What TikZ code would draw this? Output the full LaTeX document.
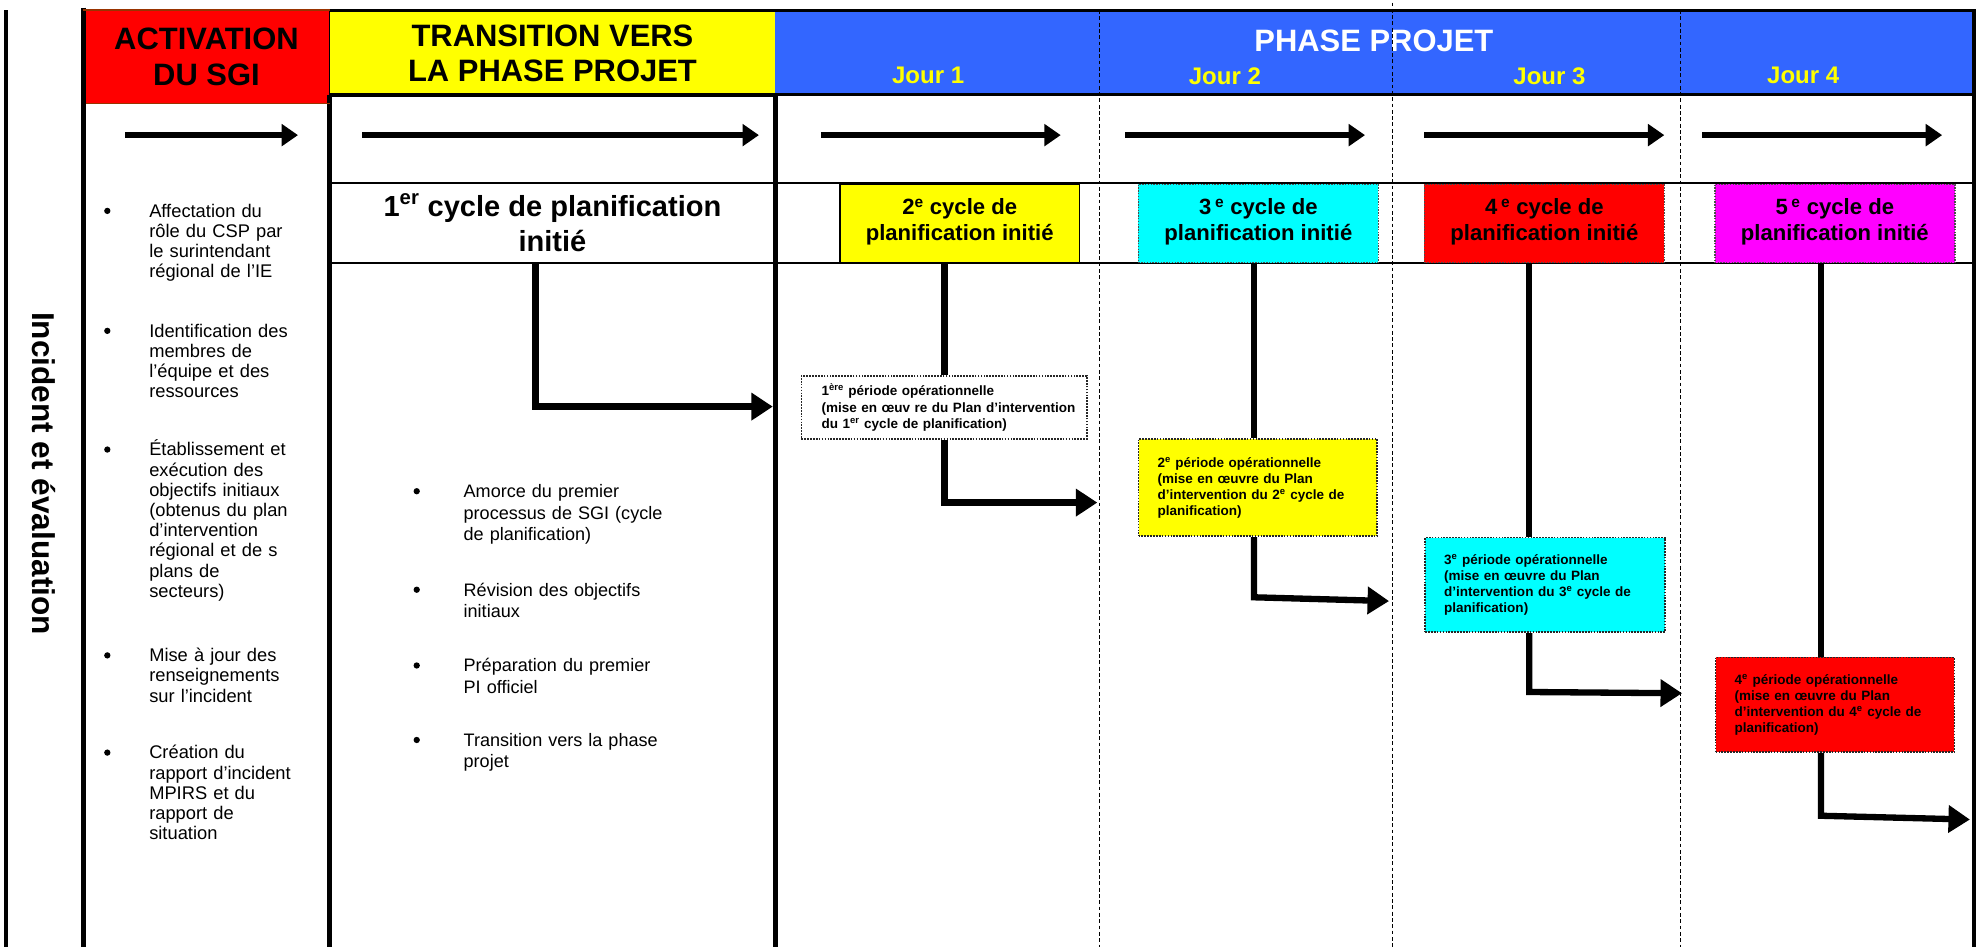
\documentclass[tikz,border=0pt]{standalone}
\usepackage{fontspec}
\setmainfont{Liberation Sans}
\usetikzlibrary{arrows.meta}
\definecolor{phaseblue}{RGB}{51,102,255}
\definecolor{hdrred}{RGB}{255,0,0}
\definecolor{hdryellow}{RGB}{255,255,0}
\definecolor{boxcyan}{RGB}{0,255,255}
\definecolor{boxmagenta}{RGB}{255,0,255}
\definecolor{rustline}{RGB}{153,51,0}
\begin{document}
\begin{tikzpicture}[x=1pt,y=-1pt,
  rulebold/.style={black,line width=4pt},
  rulemid/.style={black,line width=2.5pt},
  daysep/.style={black,line width=0.9pt,dash pattern=on 3pt off 2pt},
  hdrtext/.style={align=center,inner sep=0pt,font=\bfseries\fontsize{24.5}{28}\selectfont},
  daytext/.style={text=hdryellow,inner sep=0pt,font=\bfseries\fontsize{19}{22}\selectfont},
  flow/.style={line width=5pt,-{Triangle[length=13pt,width=17pt]}},
  conn/.style={line width=5pt,line join=miter,-{Triangle[length=17pt,width=21pt]}},
  link/.style={line width=5pt},
  cycbox/.style={minimum width=190pt,minimum height=62pt,inner sep=0pt,align=center,
    font=\bfseries\fontsize{17.5}{20}\selectfont},
  perbox/.style={draw=black!85,densely dotted,line width=1.3pt,anchor=north west,
    inner xsep=15pt,inner ysep=0pt,align=left,font=\bfseries\fontsize{10.7}{12.7}\selectfont},
  lefttext/.style={anchor=base west,align=left,inner sep=0pt,text width=140pt,
    font=\fontsize{14.5}{16}\selectfont},
  midtext/.style={anchor=base west,align=left,inner sep=0pt,text width=200pt,
    font=\fontsize{14.3}{17}\selectfont},
  dot/.style={circle,fill=black,inner sep=0pt,minimum size=5pt},
]
\useasboundingbox (0,0) rectangle (1568,750);
\fill[white] (0,0) rectangle (1568,750);

% ---------- header band ----------
\node[hdrtext,fill=hdrred,minimum width=195pt,minimum height=74pt] (hact) at (163.5,45) {ACTIVATION\\DU SGI};
\node[hdrtext,fill=hdryellow,draw=black,line width=1.2pt,minimum width=353pt,minimum height=67pt] (htrans) at (437.5,42.5) {TRANSITION VERS\\LA PHASE PROJET};
\fill[phaseblue] (614,8) rectangle (1563,75);
\node[hdrtext,text=white] (hphase) at (1088,32) {PHASE PROJET};
\node[daytext] (j1) at (735,60) {Jour 1};
\node[daytext] (j2) at (970,60) {Jour 2};
\node[daytext] (j3) at (1227,60) {Jour 3};
\node[daytext] (j4) at (1428,60) {Jour 4};

% ---------- grid ----------
\draw[daysep] (871,8) -- (871,750);
\draw[daysep] (1103,2) -- (1103,750);
\draw[daysep] (1331,8) -- (1331,750);
\draw[black,line width=3pt] (5,8) -- (5,750);
\draw[rulebold] (66,6) -- (66,750);
\draw[rulebold] (261,75) -- (261,750);
\draw[rulebold] (614,75) -- (614,750);
\draw[black,line width=3pt] (1563,8) -- (1563,750);
\draw[rustline,line width=2pt] (66,8) -- (261,8);
\draw[rulemid] (261,8) -- (1564.5,8);
\draw[rustline,line width=1.5pt] (68,82) -- (261,82);
\draw[rulemid] (261,75) -- (1563,75);
\draw[black,line width=2pt] (261,145) -- (1563,145);
\draw[black,line width=1.5pt] (261,208) -- (1563,208);

% ---------- timeline arrows ----------
\coordinate (a1s) at (99,107);   \coordinate (a1e) at (236,107);
\coordinate (a2s) at (287,107);  \coordinate (a2e) at (601,107);
\coordinate (a3s) at (650,107);  \coordinate (a3e) at (840,107);
\coordinate (a4s) at (891,107);  \coordinate (a4e) at (1081,107);
\coordinate (a5s) at (1128,107); \coordinate (a5e) at (1318,107);
\coordinate (a6s) at (1348,107); \coordinate (a6e) at (1538,107);
\foreach \i in {1,...,6} \draw[flow] (a\i s) -- (a\i e);

% ---------- planning cycles ----------
\node[minimum width=353pt,minimum height=63pt,inner sep=0pt,align=center,
  font=\bfseries\fontsize{23}{28}\selectfont] (c1) at (437.5,176.5)
  {1\textsuperscript{er} cycle de planification\\initié};
\node[cycbox,fill=hdryellow,draw=black,line width=1.3pt] (c2) at (760,177)
  {\raisebox{6pt}{\shortstack{2\textsuperscript{e} cycle de\\[1pt]planification initié}}};
\node[cycbox,fill=boxcyan,draw=black!70,densely dotted,line width=1.2pt] (c3) at (996.5,177)
  {\raisebox{6pt}{\shortstack{3\,\textsuperscript{e} cycle de\\[1pt]planification initié}}};
\node[cycbox,fill=hdrred,draw=black!70,densely dotted,line width=1.2pt] (c4) at (1223,177)
  {\raisebox{6pt}{\shortstack{4\,\textsuperscript{e} cycle de\\[1pt]planification initié}}};
\node[cycbox,fill=boxmagenta,draw=black!70,densely dotted,line width=1.2pt] (c5) at (1453,177)
  {\raisebox{6pt}{\shortstack{5\,\textsuperscript{e} cycle de\\[1pt]planification initié}}};

% ---------- operational periods ----------
\node[perbox,fill=white,inner xsep=8pt,text width=210pt,minimum height=50pt] (p1) at (634,297)
  {\hspace*{8pt}\mbox{1\textsuperscript{ère} période opérationnelle}\\
   \hspace*{8pt}\mbox{(mise en œuv re du Plan d’intervention}\\
   \hspace*{8pt}\mbox{du 1\textsuperscript{er} cycle de planification)}};
\node[perbox,fill=hdryellow,text width=159pt,minimum height=77pt] (p2) at (901,347)
  {2\textsuperscript{e} période opérationnelle\\(mise en œuvre du Plan\\d’intervention du 2\textsuperscript{e} cycle de\\planification)};
\node[perbox,fill=boxcyan,text width=160pt,minimum height=75pt] (p3) at (1128,425)
  {3\textsuperscript{e} période opérationnelle\\(mise en œuvre du Plan\\d’intervention du 3\textsuperscript{e} cycle de\\planification)};
\node[perbox,fill=hdrred,text width=159pt,minimum height=75pt] (p4) at (1358,520)
  {4\textsuperscript{e} période opérationnelle\\(mise en œuvre du Plan\\d’intervention du 4\textsuperscript{e} cycle de\\planification)};

% ---------- connectors ----------
\coordinate (k1) at (424,322);  \coordinate (e1) at (612,322);
\coordinate (k2) at (748,398);  \coordinate (e2) at (869,398);
\coordinate (k3) at (993,473);  \coordinate (e3) at (1100,476);
\coordinate (k4) at (1211,548); \coordinate (e4) at (1332,549);
\coordinate (k5) at (1442,646); \coordinate (e5) at (1560,649);
\draw[conn] (c1.south -| k1) -- (k1) -- (e1);
\draw[link] (c2.south -| k2) -- (p1.north -| k2);
\draw[conn] (p1.south -| k2) -- (k2) -- (e2);
\draw[link] (c3.south -| k3) -- (p2.north -| k3);
\draw[conn] (p2.south -| k3) -- (k3) -- (e3);
\draw[link] (c4.south -| k4) -- (p3.north -| k4);
\draw[conn] (p3.south -| k4) -- (k4) -- (e4);
\draw[link] (c5.south -| k5) -- (p4.north -| k5);
\draw[conn] (p4.south -| k5) -- (k5) -- (e5);

% ---------- side label ----------
\node[rotate=-90,inner sep=0pt,font=\bfseries\fontsize{25}{28}\selectfont] (side) at (35,375) {Incident et évaluation};

% ---------- activation tasks ----------
\node[dot] (ld1) at (85,167) {};
\node[lefttext] (lt1) at (118,172) {Affectation du\\rôle du CSP par\\le surintendant\\régional de l’IE};
\node[dot] (ld2) at (85,262) {};
\node[lefttext] (lt2) at (118,267) {Identification des\\membres de\\l’équipe et des\\ressources};
\node[dot] (ld3) at (85,356) {};
\node[lefttext] (lt3) at (118,361) {Établissement et\\exécution des\\objectifs initiaux\\(obtenus du plan\\d’intervention\\régional et de s\\plans de\\secteurs)};
\node[dot] (ld4) at (85,519) {};
\node[lefttext] (lt4) at (118,524) {Mise à jour des\\renseignements\\sur l’incident};
\node[dot] (ld5) at (85,596) {};
\node[lefttext] (lt5) at (118,601) {Création du\\rapport d’incident\\MPIRS et du\\rapport de\\situation};

% ---------- transition tasks ----------
\node[dot] (md1) at (330,389) {};
\node[midtext] (mt1) at (367,394) {Amorce du premier\\processus de SGI (cycle\\de planification)};
\node[dot] (md2) at (330,467) {};
\node[midtext] (mt2) at (367,472) {Révision des objectifs\\initiaux};
\node[dot] (md3) at (330,527) {};
\node[midtext] (mt3) at (367,532) {Préparation du premier\\PI officiel};
\node[dot] (md4) at (330,586) {};
\node[midtext] (mt4) at (367,591) {Transition vers la phase\\projet};
\end{tikzpicture}
\end{document}
